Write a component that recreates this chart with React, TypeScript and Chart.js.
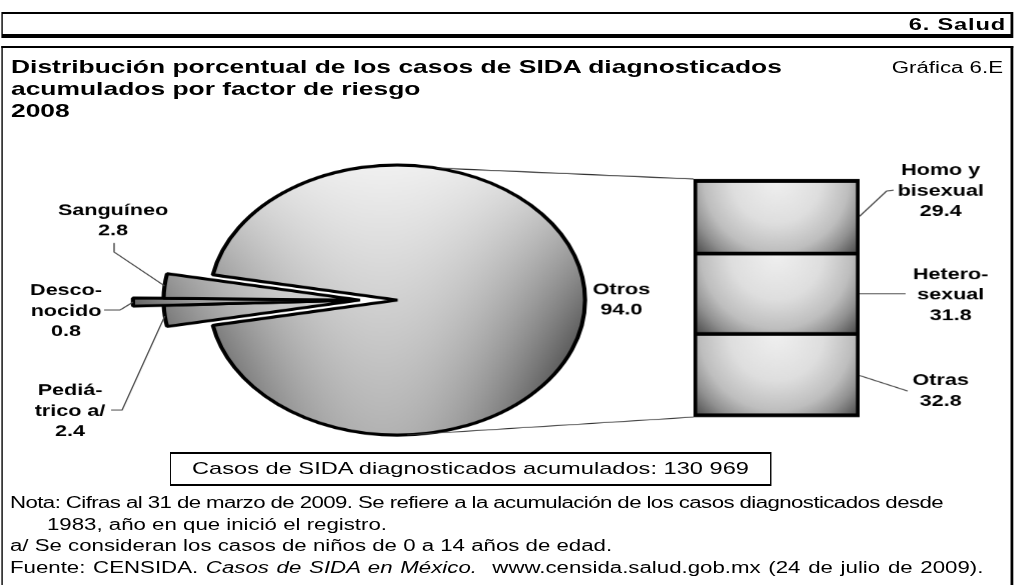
import { useEffect, useRef } from 'react';
import { Chart, registerables } from 'chart.js';

Chart.register(...registerables);

// ---------------- data ----------------
const pieCategories = ['Otros', 'Pediátrico a/', 'Desconocido', 'Sanguíneo'];
const pieValues = [94.0, 2.4, 0.8, 2.8];

// bar-of-pie breakdown of "Otros", listed bottom -> top
const barCategories = ['Otras', 'Heterosexual', 'Homo y bisexual'];
const barValues = [32.8, 31.8, 29.4];

const totalCasesText = '130 969';

const pieLabelLines: Record<string, string[]> = {
  'Otros': ['Otros'],
  'Pediátrico a/': ['Pediá-', 'trico a/'],
  'Desconocido': ['Desco-', 'nocido'],
  'Sanguíneo': ['Sanguíneo'],
};
const barLabelLines: Record<string, string[]> = {
  'Otras': ['Otras'],
  'Heterosexual': ['Hetero-', 'sexual'],
  'Homo y bisexual': ['Homo y', 'bisexual'],
};

// ---------------- layout / style ----------------
const SX = 1.39; // horizontal stretch of the whole figure
const X = (px: number) => px / SX;
const W_U = Math.round(1015 / SX);
const H = 585;
const FONT = '"Liberation Sans", Arial, Helvetica, sans-serif';
const LABEL_FONT = `bold 15.5px ${FONT}`;
const LINE = 20.5;

const PIE_CX = 397; // page px
const PIE_CY = 300;
const PIE_R = 135;
// explosion of the small slices (as one group) and extra length per slice
const EXPLODE = [0, 27, 27, 27];
const EXTEND = [0, 6, 28, 6];

const BAR_LEFT = 693;
const BAR_RIGHT = 859;
const BAR_TOP = 179;
const BAR_BOTTOM = 417;

type Pos = { x: number; y: number; leader?: Array<[number, number | null]> };
const PIE_LABEL_POS: Record<string, Pos> = {
  'Otros': { x: 621, y: 294 },
  'Sanguíneo': { x: 113, y: 215, leader: [[114, 243], [114, 252]] },
  'Desconocido': { x: 66, y: 295, leader: [[104, 310], [120, 310]] },
  'Pediátrico a/': { x: 70, y: 395, leader: [[111, 410], [122, 410]] },
};
const BAR_LABEL_POS: Record<string, Pos> = {
  'Homo y bisexual': { x: 940, y: 175, leader: [[886, 191], [893, 190]] },
  'Heterosexual': { x: 950, y: 279, leader: [[905, null]] },
  'Otras': { x: 940, y: 385, leader: [[907, 391]] },
};

const sum = (a: number[]) => a.reduce((s, v) => s + v, 0);

function piePattern(chart: any) {
  if (chart.$piePattern) return chart.$piePattern;
  const a = chart.chartArea;
  if (!a) return '#cccccc';
  const cx = (a.left + a.right) / 2;
  const cy = (a.top + a.bottom) / 2;
  const R = PIE_R;
  const W = Math.ceil(chart.width);
  const Hh = Math.ceil(chart.height);
  const off = document.createElement('canvas');
  off.width = W;
  off.height = Hh;
  const g = off.getContext('2d')!;
  const img = g.createImageData(W, Hh);
  const d = img.data;
  for (let py = 0; py < Hh; py++) {
    const yn = Math.min(Math.max((py + 0.5 - (cy - R)) / (2 * R), 0), 1);
    for (let px = 0; px < W; px++) {
      const xn = (px + 0.5 - cx) / R + 0.08;
      const xx = Math.min(xn * xn, 1.5);
      let v = 240 - 62 * yn - 112 * xx * yn - 26 * xx;
      v = Math.max(70, Math.min(250, v));
      const k = (py * W + px) * 4;
      d[k] = v; d[k + 1] = v; d[k + 2] = v; d[k + 3] = 255;
    }
  }
  g.putImageData(img, 0, 0);
  chart.$piePattern = chart.ctx.createPattern(off, 'no-repeat');
  return chart.$piePattern;
}

function barPattern(chart: any) {
  if (chart.$barPattern) return chart.$barPattern;
  const a = chart.chartArea;
  const ys = chart.scales && chart.scales.y;
  if (!a || !ys) return '#cccccc';
  const off = document.createElement('canvas');
  off.width = Math.ceil(chart.width);
  off.height = Math.ceil(chart.height);
  const g = off.getContext('2d')!;
  let cum = 0;
  barValues.forEach((v) => {
    const yTop = ys.getPixelForValue(cum + v);
    const yBot = ys.getPixelForValue(cum);
    cum += v;
    const cx = (a.left + a.right) / 2;
    const halfW = ((a.right - a.left) / 2) * SX;
    const h = yBot - yTop;
    const r = Math.hypot(halfW, h);
    g.save();
    g.beginPath();
    g.rect(a.left, yTop, a.right - a.left, h);
    g.clip();
    g.translate(cx, yTop);
    g.scale(1 / SX, 1);
    const grad = g.createRadialGradient(0, 0, 0, 0, 0, r);
    grad.addColorStop(0, 'rgb(240,240,240)');
    grad.addColorStop(0.4, 'rgb(222,222,222)');
    grad.addColorStop(0.65, 'rgb(190,190,190)');
    grad.addColorStop(0.8, 'rgb(145,145,145)');
    grad.addColorStop(1, 'rgb(65,65,65)');
    g.fillStyle = grad;
    g.fillRect(-r * 2, -5, r * 4, h + 10);
    g.restore();
  });
  chart.$barPattern = chart.ctx.createPattern(off, 'no-repeat');
  return chart.$barPattern;
}

// direction in which the group of small slices is pulled out
function groupAngle(meta: any) {
  const d = meta.data;
  return (d[1].startAngle + d[d.length - 1].endAngle) / 2;
}

function arcAnchor(meta: any, i: number) {
  const el = meta.data[i];
  const g = groupAngle(meta);
  const t = EXPLODE[i] || 0;
  const mid = (el.startAngle + el.endAngle) / 2;
  const r = el.outerRadius + (EXTEND[i] || 0);
  return [el.x + Math.cos(g) * t + Math.cos(mid) * r, el.y + Math.sin(g) * t + Math.sin(mid) * r];
}

const explodePlugin = {
  id: 'explodeGroup',
  beforeDatasetDraw(chart: any, args: any) {
    const meta = args.meta;
    const ctx: CanvasRenderingContext2D = chart.ctx;
    const g = groupAngle(meta);
    meta.data.forEach((el: any, i: number) => {
      const t = EXPLODE[i] || 0;
      const ext = EXTEND[i] || 0;
      ctx.save();
      ctx.translate(Math.cos(g) * t, Math.sin(g) * t);
      const r0 = el.outerRadius;
      el.outerRadius = r0 + ext;
      el.draw(ctx);
      el.outerRadius = r0;
      ctx.restore();
    });
    return false;
  },
};

function drawLines(ctx: CanvasRenderingContext2D, lines: string[], pos: Pos) {
  lines.forEach((t, k) => ctx.fillText(t, X(pos.x), pos.y + k * LINE));
}

const pieLabelPlugin = {
  id: 'pieLabels',
  afterDatasetsDraw(chart: any) {
    const ctx: CanvasRenderingContext2D = chart.ctx;
    const meta = chart.getDatasetMeta(0);
    ctx.save();
    ctx.font = LABEL_FONT;
    ctx.fillStyle = '#000';
    ctx.textAlign = 'center';
    ctx.textBaseline = 'alphabetic';
    pieCategories.forEach((name, i) => {
      const pos = PIE_LABEL_POS[name];
      drawLines(ctx, [...pieLabelLines[name], pieValues[i].toFixed(1)], pos);
      if (pos.leader) {
        const [ax, ay] = arcAnchor(meta, i);
        ctx.beginPath();
        ctx.strokeStyle = '#444';
        ctx.lineWidth = 1;
        pos.leader.forEach(([lx, ly], k) => {
          const yy = ly === null ? ay : ly;
          if (k === 0) ctx.moveTo(X(lx), yy); else ctx.lineTo(X(lx), yy);
        });
        ctx.lineTo(ax, ay);
        ctx.stroke();
      }
    });
    ctx.restore();
  },
};

function makeBarPlugin(pie: any) {
  return {
    id: 'barDecor',
    beforeDatasetsDraw(chart: any) {
      const ctx: CanvasRenderingContext2D = chart.ctx;
      const a = chart.chartArea;
      const ys = chart.scales.y;
      const arc = pie.getDatasetMeta(0).data[0];
      if (!arc) return;
      const top = ys.getPixelForValue(sum(barValues));
      const bottom = ys.getPixelForValue(0);
      const t1 = (-78 * Math.PI) / 180;
      const t2 = (87 * Math.PI) / 180;
      ctx.save();
      ctx.strokeStyle = '#333';
      ctx.lineWidth = 1;
      ctx.beginPath();
      ctx.moveTo(arc.x + Math.cos(t1) * arc.outerRadius, arc.y + Math.sin(t1) * arc.outerRadius);
      ctx.lineTo(a.left, top);
      ctx.moveTo(arc.x + Math.cos(t2) * arc.outerRadius, arc.y + Math.sin(t2) * arc.outerRadius);
      ctx.lineTo(a.left, bottom);
      ctx.stroke();
      ctx.restore();
    },
    afterDatasetsDraw(chart: any) {
      const ctx: CanvasRenderingContext2D = chart.ctx;
      const a = chart.chartArea;
      const ys = chart.scales.y;
      ctx.save();
      ctx.font = LABEL_FONT;
      ctx.fillStyle = '#000';
      ctx.textAlign = 'center';
      ctx.textBaseline = 'alphabetic';
      let cum = 0;
      barCategories.forEach((name, i) => {
        const v = barValues[i];
        const midY = ys.getPixelForValue(cum + v / 2);
        cum += v;
        const pos = BAR_LABEL_POS[name];
        drawLines(ctx, [...barLabelLines[name], v.toFixed(1)], pos);
        if (pos.leader) {
          ctx.beginPath();
          ctx.strokeStyle = '#444';
          ctx.lineWidth = 1;
          ctx.moveTo(a.right, midY);
          pos.leader.forEach(([lx, ly]) => ctx.lineTo(X(lx), ly === null ? midY : ly));
          ctx.stroke();
        }
      });
      ctx.restore();
    },
  };
}

export default function App() {
  const pieRef = useRef<HTMLCanvasElement>(null);
  const barRef = useRef<HTMLCanvasElement>(null);

  useEffect(() => {
    if (!pieRef.current || !barRef.current) return;
    const total = sum(pieValues);
    const small = total - pieValues[0];
    const pie = new Chart(pieRef.current, {
      type: 'pie',
      data: {
        labels: pieCategories,
        datasets: [
          {
            data: pieValues,
            backgroundColor: (c: any) => piePattern(c.chart),
            borderColor: '#000',
            borderWidth: 3,
          } as any,
        ],
      },
      options: {
        responsive: false,
        animation: false,
        devicePixelRatio: SX,
        events: [],
        rotation: 270 + (small / total) * 180,
        radius: PIE_R,
        layout: {
          padding: {
            left: X(PIE_CX) - 150,
            right: W_U - X(PIE_CX) - 150,
            top: PIE_CY - 150,
            bottom: H - PIE_CY - 150,
          },
        },
        plugins: { legend: { display: false }, tooltip: { enabled: false } },
      } as any,
      plugins: [explodePlugin, pieLabelPlugin],
    });

    const barTotal = sum(barValues);
    const n = barCategories.length;
    const bar = new Chart(barRef.current, {
      type: 'bar',
      data: {
        labels: [''],
        datasets: barCategories.map((name, i) => ({
          label: name,
          data: [barValues[i]],
          backgroundColor: (c: any) => barPattern(c.chart),
          borderColor: '#000',
          borderWidth: {
            left: 3,
            right: 3,
            top: i === n - 1 ? 4 : 2.2,
            bottom: i === 0 ? 4 : 2.2,
          },
          borderSkipped: false,
          barPercentage: 1,
          categoryPercentage: 1,
        })) as any,
      },
      options: {
        responsive: false,
        animation: false,
        devicePixelRatio: SX,
        events: [],
        layout: {
          padding: {
            left: X(BAR_LEFT),
            right: W_U - X(BAR_RIGHT),
            top: BAR_TOP,
            bottom: H - BAR_BOTTOM,
          },
        },
        scales: {
          x: { stacked: true, display: false },
          y: { stacked: true, display: false, min: 0, max: barTotal },
        },
        plugins: { legend: { display: false }, tooltip: { enabled: false } },
      } as any,
      plugins: [makeBarPlugin(pie)],
    });

    return () => {
      bar.destroy();
      pie.destroy();
    };
  }, []);

  const abs = (s: any) => ({ position: 'absolute' as const, ...s });

  return (
    <div style={{ position: 'fixed', left: 0, top: 0, width: 1015, height: 585, overflow: 'hidden', background: '#fff' }}>
      <div
        style={{
          position: 'absolute',
          left: 0,
          top: 0,
          width: W_U,
          height: H,
          transform: `scaleX(${SX})`,
          transformOrigin: '0 0',
          fontFamily: FONT,
          color: '#000',
        }}
      >
        {/* header bar */}
        <div
          style={abs({
            left: X(2),
            top: 12,
            width: X(1011),
            height: 26,
            boxSizing: 'border-box',
            borderTop: '2px solid #000',
            borderLeft: `${X(2)}px solid #000`,
            borderRight: `${X(4)}px solid #000`,
            borderBottom: '4px solid #000',
          })}
        />
        <div style={abs({ left: 0, width: X(1006), top: 14, textAlign: 'right', fontSize: 17, fontWeight: 'bold', lineHeight: '21px', letterSpacing: '0.6px', whiteSpace: 'nowrap' })}>
          6. Salud
        </div>

        {/* main frame */}
        <div
          style={abs({
            left: X(2),
            top: 46,
            width: X(1011),
            height: 600,
            boxSizing: 'border-box',
            borderTop: '2px solid #000',
            borderLeft: `${X(2)}px solid #000`,
            borderRight: `${X(3.5)}px solid #000`,
          })}
        />

        {/* title */}
        <div style={abs({ left: X(11), top: 56, fontSize: 19, fontWeight: 'bold', lineHeight: '22px', whiteSpace: 'nowrap' })}>
          <div>Distribución porcentual de los casos de SIDA diagnosticados</div>
          <div>acumulados por factor de riesgo</div>
          <div>2008</div>
        </div>
        <div style={abs({ left: 0, width: X(1003), top: 57, textAlign: 'right', fontSize: 16, lineHeight: '22px', whiteSpace: 'nowrap' })}>
          Gráfica 6.E
        </div>

        {/* charts */}
        <canvas ref={pieRef} width={W_U} height={H} style={abs({ left: 0, top: 0, width: W_U, height: H })} />
        <canvas ref={barRef} width={W_U} height={H} style={abs({ left: 0, top: 0, width: W_U, height: H })} />

        {/* total box */}
        <div
          style={abs({
            left: X(170),
            top: 452,
            width: X(601),
            height: 34,
            boxSizing: 'border-box',
            borderTop: '2px solid #000',
            borderBottom: '2px solid #000',
            borderLeft: `${X(2)}px solid #000`,
            borderRight: `${X(2)}px solid #000`,
            display: 'flex',
            alignItems: 'center',
            justifyContent: 'center',
            fontSize: 17,
            whiteSpace: 'nowrap',
          })}
        >
          Casos de SIDA diagnosticados acumulados: {totalCasesText}
        </div>

        {/* notes */}
        <div style={abs({ left: X(10), top: 492, fontSize: 16, lineHeight: '21.7px', whiteSpace: 'nowrap' })}>
          <div style={{ letterSpacing: '-0.42px' }}>
            Nota: Cifras al 31 de marzo de 2009. Se refiere a la acumulación de los casos diagnosticados desde
          </div>
          <div style={{ paddingLeft: X(37) }}>1983, año en que inició el registro.</div>
          <div>a/ Se consideran los casos de niños de 0 a 14 años de edad.</div>
          <div style={{ wordSpacing: '1.1px' }}>
            Fuente: CENSIDA. <i>Casos de SIDA en México.</i>{'\u00a0 '}www.censida.salud.gob.mx (24 de julio de 2009).
          </div>
        </div>
      </div>
    </div>
  );
}
